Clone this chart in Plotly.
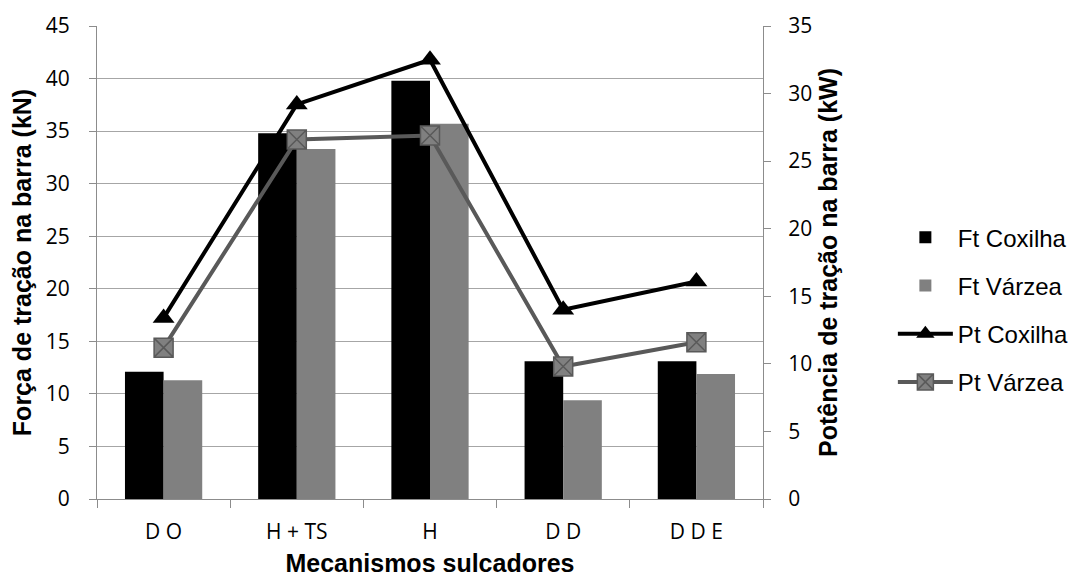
import plotly.graph_objects as go

categories = ["D O", "H + TS", "H", "D D", "D D E"]
ft_coxilha = [12.1, 34.8, 39.8, 13.1, 13.1]
ft_varzea = [11.3, 33.3, 35.7, 9.4, 11.9]
pt_coxilha = [13.4, 29.2, 32.5, 14.0, 16.1]
pt_varzea = [11.2, 26.6, 26.9, 9.8, 11.6]

fig = go.Figure()
fig.add_trace(go.Bar(x=categories, y=ft_coxilha, name="Ft Coxilha", legendgroup="a",
                     marker=dict(color="#000000", line=dict(width=0))))
fig.add_trace(go.Bar(x=categories, y=ft_varzea, name="Ft Várzea", legendgroup="b",
                     marker=dict(color="#808080", line=dict(width=0))))
fig.add_trace(go.Scatter(x=categories, y=pt_coxilha, name="Pt Coxilha", yaxis="y2",
                         legendgroup="c", mode="lines+markers",
                         line=dict(color="#000000", width=4),
                         marker=dict(symbol="triangle-up", size=19, color="#000000")))
fig.add_trace(go.Scatter(x=categories, y=pt_varzea, name="Pt Várzea", yaxis="y2",
                         legendgroup="d", mode="lines+markers",
                         line=dict(color="#595959", width=4),
                         marker=dict(symbol="square-x", size=19, color="#808080",
                                     line=dict(color="#595959", width=1.5))))

tick_font = dict(family="Open Sans, Liberation Sans, Arial", size=21, color="#000000")
title_font = dict(family="Liberation Sans, Arial", size=25, color="#000000")
xtitle_font = dict(family="Liberation Sans, Arial", size=25, color="#000000")

fig.update_layout(
    width=1079, height=582,
    margin=dict(l=89, r=324, t=18, b=91),
    paper_bgcolor="white", plot_bgcolor="white",
    barmode="group", bargap=0.42, bargroupgap=0,
    showlegend=True,
    legend=dict(x=1.195, y=0.6, xanchor="left", yanchor="top",
                traceorder="grouped", tracegroupgap=14,
                font=dict(family="Liberation Sans, Arial", size=24, color="#000000"),
                itemwidth=55, bgcolor="rgba(0,0,0,0)"),
    xaxis=dict(type="category", tickson="boundaries", ticks="outside", ticklen=8,
               tickcolor="#8c8c8c", showline=True, linecolor="#8c8c8c", linewidth=1,
               showgrid=False, ticklabelstandoff=14, automargin=False,
               tickfont=dict(family="Liberation Sans Narrow, Open Sans, Arial", size=21, color="#000000"),
               title=dict(text="<b>Mecanismos sulcadores</b>", font=xtitle_font, standoff=10)),
    yaxis=dict(range=[0, 45], dtick=5, ticks="outside", ticklen=7, tickcolor="#8c8c8c",
               showline=True, linecolor="#8c8c8c", linewidth=1,
               showgrid=True, gridcolor="#a6a6a6", gridwidth=1, zeroline=False,
               tickfont=tick_font, ticklabelstandoff=15, automargin=False,
               title=dict(text="<b>Força de tração na barra (kN)</b>", font=title_font, standoff=14)),
    yaxis2=dict(range=[0, 35], dtick=5, overlaying="y", side="right",
                ticks="outside", ticklen=7, tickcolor="#8c8c8c",
                showline=True, linecolor="#8c8c8c", linewidth=1,
                showgrid=False, zeroline=False, tickfont=tick_font,
                ticklabelstandoff=13, automargin=False,
                title=dict(text="<b>Potência de tração na barra (kW)</b>", font=title_font, standoff=8)),
)

fig.write_html("out.html")
